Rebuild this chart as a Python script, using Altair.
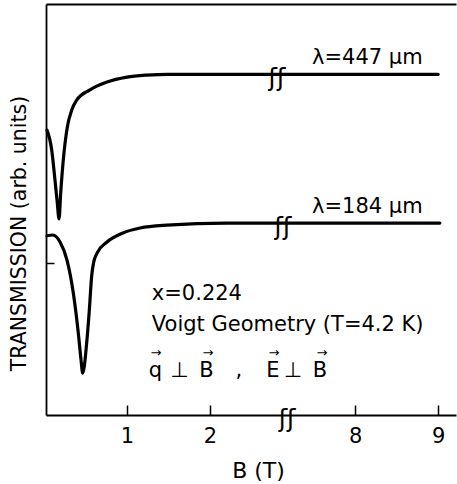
import altair as alt
import pandas as pd

FONT = "DejaVu Sans"

# Transmission (arb. units) vs magnetic field B (T), Voigt geometry, x = 0.224
b_447 = [0.037, 0.094, 0.133, 0.161, 0.182, 0.202, 0.233, 0.282, 0.335, 0.395,
         0.555, 0.760, 1.001, 1.242, 1.495, 2.2, 2.81, 7.15, 9.0]
t_447 = [6.93, 6.45, 5.72, 5.16, 4.77, 5.40, 6.20, 7.01, 7.42, 7.66,
         7.91, 8.10, 8.22, 8.27, 8.29, 8.29, 8.29, 8.29, 8.29]

b_184 = [0.037, 0.109, 0.194, 0.278, 0.354, 0.414, 0.447, 0.467, 0.515, 0.547,
         0.576, 0.600, 0.640, 0.760, 0.953, 1.158, 1.483, 2.2, 2.88, 7.15, 9.02]
t_184 = [4.36, 4.38, 4.21, 3.77, 2.97, 2.00, 1.34, 1.02, 1.75, 2.55,
         3.40, 3.72, 3.94, 4.21, 4.43, 4.55, 4.62, 4.67, 4.67, 4.67, 4.67]

# The field axis is broken: fields above BREAK_B are drawn shifted left by GAP
GAP = 4.25
BREAK_B = 5.0

tick_fields = [1, 2, 8, 9]
y_ticks = [3.7]

# Annotation texts (x in drawn-axis units, y in transmission units)
label_text = ["λ=447 µm", "λ=184 µm", "x=0.224", "Voigt Geometry (T=4.2 K)"]
label_x = [3.23, 3.23, 1.30, 1.30]
label_y = [8.54, 4.91, 2.80, 2.04]

sym_text = ["q", "⊥", "B", ",", "E", "⊥", "B"]
sym_x = [1.344, 1.633, 1.959, 2.350, 2.760, 3.000, 3.326]
sym_y = [0.925] * len(sym_text)

arrow_x = [1.350, 1.977, 2.772, 3.350]
arrow_y = [1.50] * len(arrow_x)

# Break symbols on both curves and on the field axis
break_x = [2.808, 2.880, 2.929]
break_y = [8.29, 4.67, 0.0]

curve_df = pd.concat([
    pd.DataFrame({"B": b_447, "T": t_447, "series": "447"}),
    pd.DataFrame({"B": b_184, "T": t_184, "series": "184"}),
])
label_df = pd.DataFrame({"x": label_x, "y": label_y, "text": label_text})
sym_df = pd.DataFrame({"x": sym_x, "y": sym_y, "text": sym_text})
arrow_df = pd.DataFrame({"x": arrow_x, "y": arrow_y, "text": ["→"] * len(arrow_x)})
break_df = pd.DataFrame({"x": break_x, "y": break_y, "text": ["ʃʃ"] * len(break_x)})

tick_pos = [b - GAP if b > BREAK_B else b for b in tick_fields]

x_scale = alt.Scale(domain=[0.025, 4.965], nice=False, zero=False)
y_scale = alt.Scale(domain=[0, 10], nice=False, zero=False)

curves = alt.Chart(curve_df).transform_calculate(
    u=f"datum.B > {BREAK_B} ? datum.B - {GAP} : datum.B"
).mark_line(
    color="black", strokeWidth=3.2, interpolate="monotone",
    strokeJoin="round", strokeCap="round"
).encode(
    x=alt.X("u:Q", scale=x_scale, axis=alt.Axis(
        orient="bottom", domain=True, domainColor="black", domainWidth=1.8,
        ticks=False, labels=False, grid=False,
        title="B (T)", titleFont=FONT, titleFontSize=22, titleFontWeight="normal",
        titleColor="black", titleX=212, titleY=55, titleAlign="center",
        titleBaseline="middle")),
    y=alt.Y("T:Q", scale=y_scale, axis=alt.Axis(
        orient="left", domain=True, domainColor="black", domainWidth=1.8,
        ticks=False, labels=False, grid=False,
        title="TRANSMISSION (arb. units)", titleFont=FONT, titleFontSize=20.5,
        titleFontWeight="normal", titleColor="black", titleX=-27, titleY=229,
        titleAngle=270, titleAlign="center", titleBaseline="middle")),
    detail="series:N",
)

labels = alt.Chart(label_df).mark_text(
    font=FONT, fontSize=21, align="left", baseline="alphabetic", color="black"
).encode(
    x=alt.X("x:Q", scale=x_scale, axis=alt.Axis(
        orient="bottom", offset=-10, tickSize=10, tickWidth=1.5, tickColor="black",
        domain=False, grid=False, values=tick_pos,
        labelExpr=f"datum.value > 3 ? format(datum.value + {GAP}, 'd') : format(datum.value, 'd')",
        labelFont=FONT, labelFontSize=21, labelColor="black", labelPadding=10,
        title=None)),
    y=alt.Y("y:Q", scale=y_scale, axis=alt.Axis(
        orient="left", offset=-8, tickSize=8, tickWidth=1.5, tickColor="black",
        domain=False, labels=False, grid=False, values=y_ticks, title=None)),
    text="text:N",
)

breaks = alt.Chart(break_df).mark_text(
    font=FONT, fontSize=25, align="center", baseline="middle", color="black", dy=4
).encode(
    x=alt.X("x:Q", scale=x_scale, axis=alt.Axis(
        orient="top", domain=True, domainColor="black", domainWidth=1.8,
        ticks=False, labels=False, grid=False, title=None)),
    y=alt.Y("y:Q", scale=y_scale, axis=None),
    text="text:N",
)

syms = alt.Chart(sym_df).mark_text(
    font=FONT, fontSize=21, align="center", baseline="alphabetic", color="black"
).encode(
    x=alt.X("x:Q", scale=x_scale, axis=None),
    y=alt.Y("y:Q", scale=y_scale, axis=None),
    text="text:N",
)

arrows = alt.Chart(arrow_df).mark_text(
    font=FONT, fontSize=13, align="center", baseline="middle", color="black"
).encode(
    x=alt.X("x:Q", scale=x_scale, axis=None),
    y=alt.Y("y:Q", scale=y_scale, axis=None),
    text="text:N",
)

chart = alt.layer(curves, labels, breaks, syms, arrows).resolve_axis(
    x="independent", y="independent"
).properties(
    width=410, height=411, autosize="none",
    padding={"left": 46, "top": 4, "right": 1, "bottom": 69},
).configure_view(stroke=None)

chart.save("out.html", embed_options={"renderer": "svg", "actions": False})
